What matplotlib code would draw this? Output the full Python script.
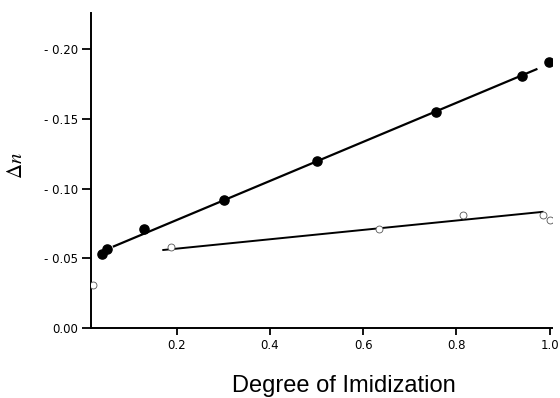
import matplotlib
matplotlib.use('Agg')
import matplotlib.pyplot as plt
from matplotlib.ticker import FuncFormatter

# Filled circles (upper series)
filled_x = [0.040, 0.050, 0.129, 0.301, 0.500, 0.756, 0.941, 0.998]
filled_y = [0.053, 0.0566, 0.0708, 0.0918, 0.120, 0.155, 0.181, 0.191]
filled_fit_x = [0.063, 0.974]
filled_fit_y = [0.0583, 0.186]

# Open circles (lower series)
open_x = [0.020, 0.188, 0.635, 0.815, 0.985, 1.000]
open_y = [0.031, 0.0583, 0.0712, 0.0808, 0.081, 0.0774]
open_fit_x = [0.169, 0.987]
open_fit_y = [0.0559, 0.0834]

x_ticks = [0.2, 0.4, 0.6, 0.8, 1.0]
y_ticks = [0.0, 0.05, 0.10, 0.15, 0.20]

plt.rcParams['mathtext.fontset'] = 'stix'

fig = plt.figure(figsize=(5.6, 3.98), dpi=100)
ax = fig.add_axes([0.1625, 0.176, 0.823, 0.791])

# Fit lines
ax.plot(filled_fit_x, filled_fit_y, color='black', lw=1.6, solid_capstyle='butt')
ax.plot(open_fit_x, open_fit_y, color='black', lw=1.4, solid_capstyle='butt')

# Points
ax.plot(filled_x, filled_y, 'o', color='black', ms=6.6, zorder=3)
ax.plot(open_x, open_y, 'o', mfc='white', mec='#555555', mew=0.6, ms=5.0, zorder=3)

ax.set_xlim(0.016, 1.005)
ax.set_ylim(0, 0.226)
ax.set_xticks(x_ticks)
ax.set_yticks(y_ticks)
ax.xaxis.set_major_formatter(FuncFormatter(lambda v, p: f'{v:.1f}'))
ax.yaxis.set_major_formatter(FuncFormatter(
    lambda v, p: '0.00' if abs(v) < 1e-9 else f'- {v:.2f}'))

for side in ['top', 'right']:
    ax.spines[side].set_visible(False)
for side in ['left', 'bottom']:
    ax.spines[side].set_linewidth(1.4)

ax.tick_params(axis='y', direction='out', length=6.5, width=1.3, pad=3,
               labelsize=8.5)
ax.tick_params(axis='x', direction='out', length=5, width=1.3, pad=3,
               labelsize=8.5)
for lab in ax.get_xticklabels() + ax.get_yticklabels():
    lab.set_family('DejaVu Sans')

ax.set_xlabel('Degree of Imidization', family='Liberation Sans', fontsize=17)
ax.xaxis.set_label_coords(0.548, -0.151)
ax.set_ylabel(r'$\Delta n$', fontsize=15)
ax.yaxis.set_label_coords(-0.141, 0.517)

fig.savefig('out.png', dpi=100)
